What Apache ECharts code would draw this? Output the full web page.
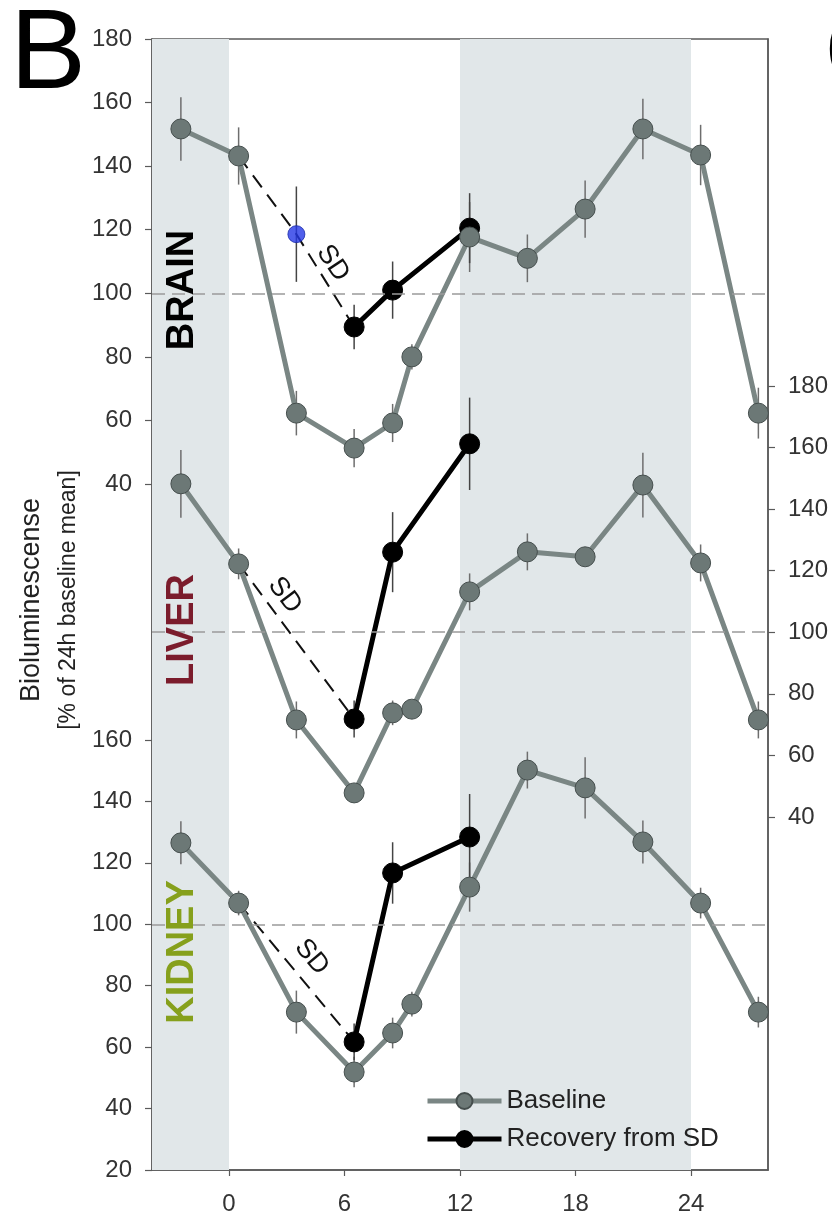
<!DOCTYPE html>
<html lang="en">
<head>
    <meta charset="UTF-8">
    <title>Bioluminescence after SD</title>
    <script src="https://cdn.jsdelivr.net/npm/echarts@6/dist/echarts.min.js"></script>
    <style>
        html, body { margin: 0; padding: 0; background: #fff; }
        #main { width: 832px; height: 1216px; }
    </style>
</head>
<body>
<div id="main"></div>
<script>
    // time points (h)
    var hours = [-2.5, 0.5, 3.5, 6.5, 8.5, 9.5, 12.5, 15.5, 18.5, 21.5, 24.5, 27.5];
    var recoveryHours = [6.5, 8.5, 12.5];
    var xTicks = [0, 6, 12, 18, 24];
    var upperTicks = [40, 60, 80, 100, 120, 140, 160, 180];
    var lowerTicks = [20, 40, 60, 80, 100, 120, 140, 160];

    // brain
    var brainBase = [151.7, 143.2, 62.3, 51.3, 59.2, 80, 117.7, 111, 126.5, 151.7, 143.5, 62.3];
    var brainBaseErr = [10, 9, 7, 6, 6, 4, 11, 7.5, 9, 9.5, 9.5, 8];
    var brainRec = [89.4, 101, 120.5];
    var brainRecErr = [7, 9, 11];
    var brainSdPoint = [3.5, 118.6];
    var brainSdErr = 15;
    var brainSdPath = [[0.5, 143.2], [3.5, 118.6], [6.5, 89.4]];

    // liver
    var liverBase = [148.2, 122.2, 71.5, 47.8, 73.8, 75, 113.1, 126.1, 124.5, 147.8, 122.5, 71.5];
    var liverBaseErr = [11, 5, 6, 3, 4, 3, 6, 6, 3, 10.5, 6, 6];
    var liverRec = [71.8, 126, 161.2];
    var liverRecErr = [6, 13, 15];
    var liverSdPath = [[0.5, 122.2], [6.5, 71.8]];

    // kidney
    var kidneyBase = [126.5, 106.9, 71.4, 51.9, 64.6, 74, 112.1, 150.2, 144.4, 126.8, 106.9, 71.4];
    var kidneyBaseErr = [7, 4, 7, 5, 5, 4, 8, 6, 10, 7, 5, 5];
    var kidneyRec = [61.7, 116.7, 128.4];
    var kidneyRecErr = [6, 10, 14];
    var kidneySdPath = [[0.5, 106.9], [6.5, 61.7]];

    // "SD" annotations: [x, y, rotation]
    var sdLabels = [[5.4, 109.5, -56], [2.9, 112, -53], [4.3, 89.3, -50]];

    var FONT = 'Liberation Sans, Arial, sans-serif';
    var GREY_LINE = '#7a8684';
    var GREY_DOT = '#6c7876';
    var GREY_EDGE = '#454e4d';
    var AXIS = '#5a5a5a';

    function pairs(xs, ys) {
        return xs.map(function (x, i) { return [x, ys[i]]; });
    }
    function errData(xs, ys, es) {
        return xs.map(function (x, i) { return [x, ys[i] - es[i], ys[i] + es[i]]; });
    }
    function errSeries(data, axis, color) {
        return {
            type: 'custom', yAxisIndex: axis, z: 2, silent: true,
            encode: {x: 0, y: [1, 2]},
            data: data,
            renderItem: function (params, api) {
                var x = api.value(0);
                var a = api.coord([x, api.value(1)]);
                var b = api.coord([x, api.value(2)]);
                return {type: 'line', shape: {x1: a[0], y1: a[1], x2: b[0], y2: b[1]},
                        style: {stroke: color, lineWidth: 1.5}};
            }
        };
    }
    function hundredLine() {
        return {
            silent: true, symbol: 'none',
            lineStyle: {color: '#9a9a9a', width: 1.5, type: [13, 7]},
            label: {show: false},
            data: [{yAxis: 100}]
        };
    }
    function baseSeries(data, axis) {
        return {
            name: 'Baseline', type: 'line', yAxisIndex: axis, z: 4,
            data: data, symbol: 'circle', symbolSize: 20,
            lineStyle: {color: GREY_LINE, width: 5},
            itemStyle: {color: GREY_DOT, borderColor: GREY_EDGE, borderWidth: 1},
            markLine: hundredLine()
        };
    }
    function recSeries(data, axis) {
        return {
            name: 'Recovery from SD', type: 'line', yAxisIndex: axis, z: 3,
            data: data, symbol: 'circle', symbolSize: 20,
            lineStyle: {color: '#000', width: 5},
            itemStyle: {color: '#000', borderColor: '#000', borderWidth: 1}
        };
    }
    function sdSeries(data, axis, label) {
        return {
            type: 'line', yAxisIndex: axis, z: 3, silent: true,
            data: data, symbol: 'none',
            lineStyle: {color: '#111', width: 2, type: [15, 9]},
            markPoint: {
                symbol: 'circle', symbolSize: 0,
                data: [{coord: [label[0], label[1]], value: 'SD'}],
                label: {show: true, position: 'inside', formatter: 'SD', rotate: label[2],
                        color: '#111', fontSize: 27, fontFamily: FONT}
            }
        };
    }
    function yAx(pos, min, max, ticks, showLine) {
        return {
            type: 'value', position: pos, min: min, max: max,
            splitLine: {show: false},
            axisLine: {show: showLine, onZero: false, lineStyle: {color: AXIS, width: 1.5}},
            axisTick: {show: true, length: 7, customValues: ticks, lineStyle: {color: AXIS, width: 1.2}},
            axisLabel: {customValues: ticks, margin: 20, color: '#333', fontSize: 24, fontFamily: FONT}
        };
    }
    function panelText(text, y, color) {
        return {type: 'text', x: 183, y: y, rotation: Math.PI / 2, z: 100,
                style: {text: text, fontSize: 38, fontWeight: 'bold', fontFamily: FONT, fill: color,
                        align: 'center', verticalAlign: 'middle'}};
    }

    var chart = echarts.init(document.getElementById('main'));
    var option = {
        animation: false,
        grid: {left: 152, right: 64, top: 39, bottom: 46, show: true,
               borderColor: AXIS, borderWidth: 1.5, backgroundColor: 'transparent'},
        legend: {
            data: ['Baseline', 'Recovery from SD'],
            orient: 'vertical', left: 420, top: 1083,
            itemWidth: 74, itemHeight: 20, itemGap: 12,
            lineStyle: {width: 5},
            textStyle: {fontSize: 26, color: '#222', fontFamily: FONT}
        },
        xAxis: {
            type: 'value', min: -4, max: 28,
            splitLine: {show: false},
            axisLine: {onZero: false, lineStyle: {color: AXIS, width: 1.5}},
            axisTick: {length: 6, customValues: xTicks, lineStyle: {color: AXIS, width: 1.2}},
            axisLabel: {customValues: xTicks, margin: 22, color: '#333', fontSize: 24, fontFamily: FONT}
        },
        yAxis: [
            yAx('left', -175.8, 180, upperTicks, true),   // brain
            yAx('left', 20, 388.2, lowerTicks, false),     // kidney
            yAx('right', -74.7, 292.7, upperTicks, true)   // liver
        ],
        graphic: [
            {type: 'text', left: 10, top: 0, z: 100, style: {text: 'B', fontSize: 114, fontFamily: FONT, fill: '#000'}},
            {type: 'text', left: 824, top: 0, z: 100, style: {text: 'C', fontSize: 114, fontFamily: FONT, fill: '#000'}},
            panelText('BRAIN', 290, '#000'),
            panelText('LIVER', 630, '#7b1c2c'),
            panelText('KIDNEY', 952, '#86a01c'),
            {type: 'text', x: 32, y: 600, rotation: Math.PI / 2, z: 100,
             style: {text: 'Bioluminescense', fontSize: 27, fontFamily: FONT, fill: '#222',
                     align: 'center', verticalAlign: 'middle'}},
            {type: 'text', x: 69, y: 600, rotation: Math.PI / 2, z: 100,
             style: {text: '[% of 24h baseline mean]', fontSize: 23, fontFamily: FONT, fill: '#222',
                     align: 'center', verticalAlign: 'middle'}}
        ],
        series: [
            {
                type: 'line', data: [], z: 0, silent: true,
                markArea: {
                    silent: true,
                    itemStyle: {color: '#e1e7e9'},
                    data: [[{xAxis: -4}, {xAxis: 0}], [{xAxis: 12}, {xAxis: 24}]]
                }
            },
            errSeries(errData(hours, brainBase, brainBaseErr), 0, '#6e6e6e'),
            errSeries(errData(recoveryHours, brainRec, brainRecErr), 0, '#444'),
            errSeries([[brainSdPoint[0], brainSdPoint[1] - brainSdErr, brainSdPoint[1] + brainSdErr]], 0, '#444'),
            errSeries(errData(hours, liverBase, liverBaseErr), 2, '#6e6e6e'),
            errSeries(errData(recoveryHours, liverRec, liverRecErr), 2, '#444'),
            errSeries(errData(hours, kidneyBase, kidneyBaseErr), 1, '#6e6e6e'),
            errSeries(errData(recoveryHours, kidneyRec, kidneyRecErr), 1, '#444'),

            sdSeries(brainSdPath, 0, sdLabels[0]),
            sdSeries(liverSdPath, 2, sdLabels[1]),
            sdSeries(kidneySdPath, 1, sdLabels[2]),

            recSeries(pairs(recoveryHours, brainRec), 0),
            recSeries(pairs(recoveryHours, liverRec), 2),
            recSeries(pairs(recoveryHours, kidneyRec), 1),

            baseSeries(pairs(hours, brainBase), 0),
            baseSeries(pairs(hours, liverBase), 2),
            baseSeries(pairs(hours, kidneyBase), 1),

            {
                type: 'scatter', yAxisIndex: 0, z: 5, silent: true,
                data: [brainSdPoint], symbolSize: 17,
                itemStyle: {color: '#2437e6', borderColor: '#1a2aa8', borderWidth: 1}
            }
        ]
    };
    chart.setOption(option);
</script>
</body>
</html>
